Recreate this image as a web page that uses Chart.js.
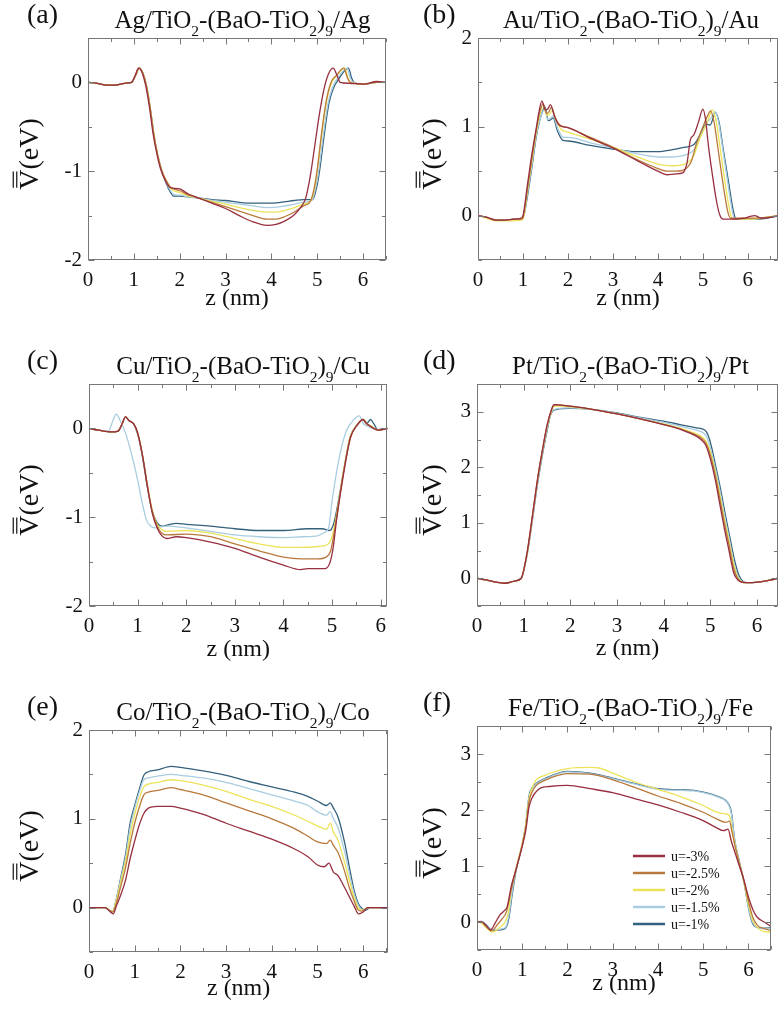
<!DOCTYPE html>
<html><head><meta charset="utf-8">
<script src="https://cdn.jsdelivr.net/npm/chart.js@4.4.1/dist/chart.umd.min.js"></script>
<style>
html,body{margin:0;padding:0;background:#fff}
body{width:779px;height:1010px;position:relative;overflow:hidden}
canvas{position:absolute}
</style></head><body>
<canvas id="pa"></canvas><canvas id="pb"></canvas><canvas id="pc"></canvas>
<canvas id="pd"></canvas><canvas id="pe"></canvas><canvas id="pf"></canvas>
<script>
// ---------- legend / series ----------
const legendLabels = ['u=-3%','u=-2.5%','u=-2%','u=-1.5%','u=-1%'];
const seriesColors = ['#982f3f','#b9793c','#ece35a','#a9cde0','#33607c'];
const xTickLabels = ['0','1','2','3','4','5','6'];
const yTicksNeg = ['-2','-1','0'];
const yTicksLow = ['0','1','2'];
const yTicksHigh = ['0','1','2','3'];

// ---------- (a) Ag ----------
const agM30 = [[0,0],[0.2,-0.01],[0.4,-0.03],[0.6,-0.03],[0.8,-0.01],[0.95,0],[1.03,0.08],[1.1,0.16],[1.18,0.11],[1.26,-0.04],[1.34,-0.28],[1.42,-0.58],[1.5,-0.8],[1.58,-0.97],[1.68,-1.1],[1.78,-1.18],[1.85,-1.19],[2.0,-1.2],[2.2,-1.26],[2.4,-1.3],[2.7,-1.36],[3.0,-1.42],[3.3,-1.5],[3.6,-1.57],[3.9,-1.61],[4.1,-1.6],[4.3,-1.56],[4.5,-1.49],[4.65,-1.4],[4.75,-1.3],[4.85,-1.05],[4.95,-0.7],[5.05,-0.35],[5.15,-0.07],[5.25,0.1],[5.35,0.16],[5.43,0.08],[5.5,0],[5.7,-0.01],[6.0,-0.02],[6.3,0.01],[6.5,0]];
const agM25 = [[0,0],[0.2,-0.01],[0.4,-0.03],[0.6,-0.03],[0.8,-0.01],[0.95,0],[1.04,0.08],[1.12,0.16],[1.2,0.1],[1.28,-0.05],[1.36,-0.3],[1.44,-0.6],[1.52,-0.82],[1.6,-0.98],[1.7,-1.1],[1.8,-1.18],[1.87,-1.2],[2.0,-1.22],[2.2,-1.27],[2.4,-1.3],[2.7,-1.35],[3.0,-1.4],[3.3,-1.45],[3.6,-1.5],[3.9,-1.54],[4.1,-1.54],[4.3,-1.51],[4.5,-1.46],[4.7,-1.39],[4.85,-1.34],[4.93,-1.2],[5.0,-0.98],[5.1,-0.55],[5.2,-0.2],[5.3,0.0],[5.42,0.08],[5.58,0.16],[5.66,0.05],[5.72,0],[6.0,-0.02],[6.3,0],[6.5,0]];
const agM20 = [[0,0],[0.2,-0.01],[0.4,-0.03],[0.6,-0.03],[0.8,-0.01],[0.95,0],[1.04,0.08],[1.12,0.16],[1.2,0.1],[1.28,-0.05],[1.36,-0.3],[1.44,-0.6],[1.52,-0.82],[1.6,-0.98],[1.7,-1.1],[1.8,-1.19],[1.87,-1.22],[2.0,-1.24],[2.2,-1.28],[2.4,-1.3],[2.7,-1.34],[3.0,-1.37],[3.3,-1.41],[3.6,-1.44],[3.9,-1.46],[4.1,-1.46],[4.3,-1.44],[4.5,-1.41],[4.7,-1.37],[4.85,-1.34],[4.94,-1.2],[5.0,-1.0],[5.1,-0.58],[5.2,-0.22],[5.3,-0.02],[5.43,0.08],[5.6,0.16],[5.67,0.05],[5.73,0],[6.0,-0.02],[6.3,0],[6.5,0]];
const agM15 = [[0,0],[0.2,-0.01],[0.4,-0.03],[0.6,-0.03],[0.8,-0.01],[0.95,0],[1.04,0.08],[1.12,0.16],[1.2,0.1],[1.28,-0.05],[1.36,-0.3],[1.44,-0.6],[1.52,-0.82],[1.6,-0.98],[1.7,-1.12],[1.8,-1.22],[1.87,-1.26],[2.0,-1.27],[2.2,-1.29],[2.4,-1.3],[2.7,-1.33],[3.0,-1.35],[3.3,-1.37],[3.6,-1.39],[3.9,-1.41],[4.2,-1.4],[4.5,-1.37],[4.7,-1.35],[4.88,-1.33],[4.96,-1.2],[5.03,-1.0],[5.13,-0.6],[5.23,-0.25],[5.33,-0.06],[5.45,0.05],[5.65,0.16],[5.72,0.05],[5.78,0],[6.0,-0.02],[6.3,0],[6.5,0]];
const agM10 = [[0,0],[0.2,-0.01],[0.4,-0.03],[0.6,-0.03],[0.8,-0.01],[0.95,0],[1.04,0.08],[1.12,0.16],[1.2,0.1],[1.28,-0.05],[1.36,-0.3],[1.44,-0.6],[1.52,-0.82],[1.6,-0.98],[1.7,-1.13],[1.8,-1.24],[1.87,-1.28],[2.0,-1.28],[2.2,-1.29],[2.4,-1.3],[2.7,-1.32],[3.0,-1.33],[3.3,-1.35],[3.6,-1.36],[3.9,-1.36],[4.2,-1.35],[4.5,-1.33],[4.7,-1.32],[4.9,-1.32],[4.98,-1.2],[5.05,-1.0],[5.15,-0.6],[5.25,-0.25],[5.35,-0.07],[5.47,0.04],[5.68,0.16],[5.75,0.05],[5.8,0],[6.0,-0.02],[6.3,0],[6.5,0]];

// ---------- (b) Au ----------
const auM30 = [[0,0],[0.2,-0.02],[0.4,-0.05],[0.6,-0.05],[0.8,-0.04],[0.95,-0.03],[1.0,0],[1.1,0.35],[1.2,0.7],[1.3,1.0],[1.36,1.18],[1.42,1.29],[1.5,1.19],[1.55,1.2],[1.61,1.25],[1.7,1.12],[1.8,1.02],[2.0,0.99],[2.5,0.87],[3.0,0.76],[3.5,0.63],[4.0,0.5],[4.2,0.46],[4.4,0.47],[4.55,0.48],[4.65,0.6],[4.72,0.85],[4.8,0.91],[4.9,1.05],[5.0,1.2],[5.06,1.08],[5.12,0.8],[5.2,0.5],[5.3,0.17],[5.38,0.0],[5.45,-0.04],[5.6,-0.04],[5.9,-0.03],[6.05,-0.01],[6.15,0.0],[6.3,-0.03],[6.5,-0.02],[6.7,0]];
const auM25 = [[0,0],[0.2,-0.02],[0.4,-0.05],[0.6,-0.05],[0.8,-0.04],[0.95,-0.04],[1.0,-0.02],[1.1,0.3],[1.2,0.65],[1.3,0.98],[1.38,1.18],[1.45,1.26],[1.52,1.15],[1.58,1.17],[1.63,1.22],[1.72,1.1],[1.82,1.02],[2.0,0.99],[2.5,0.88],[3.0,0.77],[3.5,0.64],[4.0,0.53],[4.2,0.5],[4.4,0.5],[4.6,0.52],[4.75,0.62],[4.85,0.8],[5.0,1.0],[5.1,1.12],[5.17,1.18],[5.25,1.05],[5.35,0.7],[5.45,0.35],[5.55,0.05],[5.62,-0.03],[6.0,-0.03],[6.4,-0.02],[6.7,0]];
const auM20 = [[0,0],[0.2,-0.03],[0.4,-0.06],[0.6,-0.06],[0.8,-0.06],[0.95,-0.05],[1.0,-0.04],[1.1,0.28],[1.2,0.62],[1.3,0.95],[1.38,1.15],[1.46,1.23],[1.53,1.13],[1.6,1.15],[1.65,1.18],[1.75,1.06],[1.85,0.97],[2.0,0.94],[2.5,0.86],[3.0,0.77],[3.5,0.67],[4.0,0.58],[4.3,0.56],[4.6,0.58],[4.8,0.68],[4.92,0.85],[5.05,1.0],[5.13,1.1],[5.21,1.19],[5.3,1.05],[5.4,0.7],[5.5,0.35],[5.6,0.05],[5.66,-0.04],[6.0,-0.04],[6.4,-0.02],[6.7,0]];
const auM15 = [[0,0],[0.2,-0.02],[0.4,-0.05],[0.6,-0.05],[0.8,-0.04],[0.95,-0.04],[1.0,-0.03],[1.1,0.25],[1.2,0.58],[1.3,0.92],[1.4,1.12],[1.48,1.2],[1.55,1.08],[1.62,1.1],[1.67,1.12],[1.78,0.97],[1.9,0.88],[2.0,0.88],[2.5,0.82],[3.0,0.76],[3.5,0.7],[4.0,0.66],[4.3,0.66],[4.6,0.68],[4.8,0.74],[4.95,0.9],[5.1,1.05],[5.18,1.1],[5.27,1.17],[5.35,1.05],[5.45,0.72],[5.55,0.38],[5.65,0.06],[5.7,-0.03],[6.0,-0.04],[6.4,-0.02],[6.7,0]];
const auM10 = [[0,0],[0.2,-0.02],[0.4,-0.05],[0.6,-0.05],[0.8,-0.04],[0.95,-0.04],[1.0,-0.03],[1.1,0.22],[1.2,0.55],[1.3,0.9],[1.4,1.12],[1.49,1.22],[1.56,1.07],[1.62,1.08],[1.67,1.1],[1.77,0.95],[1.88,0.85],[2.0,0.84],[2.5,0.79],[3.0,0.75],[3.5,0.72],[4.0,0.72],[4.3,0.74],[4.6,0.77],[4.8,0.8],[4.95,0.92],[5.07,1.03],[5.16,1.02],[5.28,1.16],[5.36,1.05],[5.46,0.72],[5.57,0.38],[5.67,0.07],[5.73,-0.03],[6.0,-0.04],[6.4,-0.03],[6.7,0]];

// ---------- (c) Cu ----------
const cuM30 = [[0,0],[0.2,-0.02],[0.45,-0.04],[0.6,-0.03],[0.68,0.05],[0.75,0.13],[0.82,0.09],[0.92,0.05],[1.0,-0.05],[1.1,-0.3],[1.2,-0.65],[1.3,-0.95],[1.4,-1.12],[1.5,-1.21],[1.6,-1.24],[1.8,-1.22],[2.0,-1.23],[2.5,-1.28],[3.0,-1.35],[3.5,-1.45],[4.0,-1.54],[4.35,-1.59],[4.5,-1.58],[4.7,-1.58],[4.85,-1.58],[4.95,-1.52],[5.02,-1.35],[5.1,-1.0],[5.24,-0.5],[5.38,-0.1],[5.52,0.04],[5.63,0.1],[5.7,0.06],[5.8,0.02],[5.95,-0.02],[6.15,0]];
const cuM25 = [[0,0],[0.2,-0.02],[0.45,-0.04],[0.6,-0.03],[0.68,0.05],[0.75,0.13],[0.82,0.09],[0.92,0.05],[1.0,-0.05],[1.1,-0.3],[1.2,-0.64],[1.3,-0.93],[1.4,-1.1],[1.5,-1.18],[1.6,-1.2],[2.0,-1.19],[2.5,-1.22],[3.0,-1.3],[3.5,-1.38],[4.0,-1.45],[4.35,-1.47],[4.7,-1.47],[4.88,-1.45],[4.97,-1.38],[5.05,-1.15],[5.12,-0.9],[5.24,-0.48],[5.38,-0.1],[5.52,0.04],[5.64,0.1],[5.71,0.05],[5.8,0.02],[5.95,-0.02],[6.15,0]];
const cuM20 = [[0,0],[0.2,-0.02],[0.45,-0.04],[0.6,-0.03],[0.68,0.05],[0.75,0.13],[0.82,0.09],[0.92,0.05],[1.0,-0.05],[1.1,-0.3],[1.2,-0.63],[1.3,-0.92],[1.4,-1.08],[1.5,-1.14],[1.6,-1.16],[2.0,-1.15],[2.5,-1.18],[3.0,-1.24],[3.5,-1.3],[4.0,-1.34],[4.35,-1.34],[4.7,-1.33],[4.9,-1.31],[4.98,-1.25],[5.05,-1.1],[5.12,-0.88],[5.24,-0.47],[5.37,-0.1],[5.5,0.03],[5.65,0.1],[5.72,0.05],[5.8,0.03],[5.95,-0.02],[6.15,0]];
const cuM15 = [[0,0],[0.2,-0.02],[0.4,-0.03],[0.5,0.1],[0.56,0.16],[0.63,0.1],[0.75,-0.05],[0.88,-0.3],[1.0,-0.58],[1.1,-0.85],[1.18,-1.03],[1.27,-1.1],[1.35,-1.12],[1.6,-1.1],[2.0,-1.12],[2.5,-1.16],[3.0,-1.2],[3.5,-1.22],[4.0,-1.23],[4.4,-1.22],[4.7,-1.21],[4.85,-1.17],[4.93,-1.12],[5.0,-0.82],[5.1,-0.47],[5.2,-0.2],[5.3,-0.02],[5.45,0.1],[5.56,0.14],[5.65,0.05],[5.75,0.02],[5.9,-0.01],[6.15,0]];
const cuM10 = [[0,0],[0.2,-0.02],[0.45,-0.04],[0.6,-0.03],[0.68,0.05],[0.75,0.13],[0.82,0.09],[0.92,0.05],[1.0,-0.06],[1.1,-0.32],[1.2,-0.66],[1.3,-0.93],[1.4,-1.06],[1.5,-1.1],[1.6,-1.09],[1.8,-1.07],[2.0,-1.08],[2.5,-1.1],[3.0,-1.13],[3.5,-1.15],[4.0,-1.15],[4.5,-1.13],[4.8,-1.13],[4.95,-1.15],[5.03,-1.08],[5.12,-0.85],[5.24,-0.47],[5.37,-0.1],[5.5,0.03],[5.65,0.1],[5.72,0.06],[5.79,0.1],[5.86,0.05],[5.95,-0.02],[6.15,0]];

// ---------- (d) Pt ----------
const ptM30 = [[0,0],[0.2,-0.03],[0.4,-0.07],[0.6,-0.09],[0.8,-0.05],[0.95,0],[1.05,0.35],[1.1,0.6],[1.2,1.2],[1.3,1.8],[1.4,2.3],[1.5,2.75],[1.6,3.05],[1.65,3.13],[1.8,3.12],[2.0,3.1],[2.5,3.04],[3.0,2.96],[3.5,2.87],[4.0,2.77],[4.4,2.67],[4.7,2.56],[4.8,2.5],[4.9,2.4],[5.0,2.15],[5.1,1.8],[5.2,1.35],[5.3,0.9],[5.4,0.5],[5.5,0.1],[5.6,-0.04],[5.75,-0.08],[5.9,-0.08],[6.1,-0.06],[6.3,-0.03],[6.45,0]];
const ptM25 = [[0,0],[0.2,-0.03],[0.4,-0.07],[0.6,-0.09],[0.8,-0.05],[0.95,0],[1.05,0.35],[1.1,0.6],[1.2,1.2],[1.3,1.8],[1.4,2.3],[1.5,2.75],[1.6,3.04],[1.65,3.12],[1.8,3.12],[2.0,3.1],[2.5,3.04],[3.0,2.96],[3.5,2.87],[4.0,2.77],[4.4,2.68],[4.7,2.58],[4.8,2.53],[4.9,2.44],[5.0,2.22],[5.1,1.88],[5.2,1.45],[5.3,1.0],[5.4,0.6],[5.5,0.18],[5.6,-0.02],[5.75,-0.08],[5.9,-0.08],[6.1,-0.06],[6.3,-0.03],[6.45,0]];
const ptM20 = [[0,0],[0.2,-0.03],[0.4,-0.07],[0.6,-0.09],[0.8,-0.05],[0.95,0],[1.05,0.34],[1.1,0.58],[1.2,1.18],[1.3,1.78],[1.4,2.28],[1.5,2.72],[1.6,3.02],[1.66,3.1],[1.8,3.1],[2.0,3.09],[2.5,3.04],[3.0,2.96],[3.5,2.87],[4.0,2.78],[4.4,2.69],[4.7,2.6],[4.8,2.56],[4.9,2.48],[5.0,2.28],[5.1,1.94],[5.2,1.52],[5.3,1.07],[5.4,0.67],[5.5,0.25],[5.6,0.0],[5.75,-0.08],[5.9,-0.08],[6.1,-0.06],[6.3,-0.03],[6.45,0]];
const ptM15 = [[0,0],[0.2,-0.03],[0.4,-0.07],[0.6,-0.09],[0.8,-0.05],[0.95,0],[1.05,0.33],[1.1,0.56],[1.2,1.15],[1.3,1.75],[1.4,2.25],[1.5,2.68],[1.6,3.0],[1.7,3.05],[2.0,3.07],[2.5,3.04],[3.0,2.97],[3.5,2.89],[4.0,2.81],[4.4,2.73],[4.7,2.67],[4.85,2.62],[4.92,2.55],[5.0,2.35],[5.1,2.0],[5.2,1.6],[5.3,1.15],[5.4,0.73],[5.5,0.3],[5.6,0.02],[5.75,-0.08],[5.9,-0.08],[6.1,-0.06],[6.3,-0.03],[6.45,0]];
const ptM10 = [[0,0],[0.2,-0.03],[0.4,-0.07],[0.6,-0.09],[0.8,-0.05],[0.95,0],[1.05,0.32],[1.1,0.55],[1.2,1.13],[1.3,1.72],[1.4,2.22],[1.5,2.65],[1.58,2.95],[1.7,3.04],[2.0,3.06],[2.5,3.04],[3.0,2.98],[3.5,2.9],[4.0,2.83],[4.4,2.76],[4.7,2.71],[4.88,2.67],[4.95,2.58],[5.03,2.35],[5.12,2.0],[5.22,1.6],[5.32,1.15],[5.42,0.73],[5.52,0.32],[5.62,0.04],[5.78,-0.08],[5.9,-0.08],[6.1,-0.06],[6.3,-0.03],[6.45,0]];

// ---------- (e) Co ----------
const coM30 = [[0,0],[0.2,0],[0.35,0],[0.45,-0.04],[0.53,-0.07],[0.6,0.02],[0.7,0.15],[0.8,0.31],[0.9,0.55],[1.0,0.75],[1.1,0.93],[1.2,1.06],[1.3,1.12],[1.5,1.14],[1.8,1.14],[2.0,1.12],[2.5,1.05],[3.0,0.95],[3.5,0.86],[4.0,0.77],[4.5,0.66],[4.8,0.57],[5.0,0.48],[5.15,0.46],[5.25,0.5],[5.35,0.4],[5.45,0.36],[5.6,0.22],[5.7,0.12],[5.8,0.02],[5.9,-0.07],[6.0,-0.05],[6.1,0],[6.55,0]];
const coM25 = [[0,0],[0.2,0],[0.35,0],[0.45,-0.03],[0.52,-0.05],[0.6,0.05],[0.7,0.25],[0.8,0.45],[0.9,0.72],[1.0,0.95],[1.1,1.13],[1.2,1.27],[1.3,1.3],[1.5,1.32],[1.8,1.35],[2.0,1.33],[2.5,1.27],[3.0,1.18],[3.5,1.09],[4.0,1.0],[4.5,0.89],[4.8,0.8],[5.0,0.74],[5.2,0.72],[5.28,0.76],[5.35,0.7],[5.45,0.62],[5.6,0.4],[5.7,0.22],[5.8,0.08],[5.88,-0.02],[5.97,-0.04],[6.1,0],[6.55,0]];
const coM20 = [[0,0],[0.2,0],[0.35,0],[0.45,-0.03],[0.52,-0.04],[0.6,0.08],[0.7,0.3],[0.8,0.52],[0.9,0.82],[1.0,1.05],[1.1,1.23],[1.2,1.36],[1.3,1.39],[1.5,1.41],[1.8,1.44],[2.0,1.43],[2.5,1.38],[3.0,1.31],[3.5,1.22],[4.0,1.14],[4.5,1.04],[4.8,0.97],[5.0,0.92],[5.2,0.88],[5.28,0.95],[5.35,0.85],[5.45,0.76],[5.6,0.5],[5.7,0.3],[5.8,0.12],[5.9,-0.01],[6.0,-0.03],[6.1,0],[6.55,0]];
const coM15 = [[0,0],[0.2,0],[0.35,0],[0.45,-0.03],[0.52,-0.04],[0.6,0.1],[0.7,0.33],[0.8,0.56],[0.9,0.9],[1.0,1.12],[1.1,1.3],[1.2,1.44],[1.3,1.46],[1.5,1.48],[1.8,1.5],[2.0,1.49],[2.5,1.46],[3.0,1.41],[3.5,1.34],[4.0,1.27],[4.5,1.2],[4.8,1.15],[5.0,1.08],[5.2,1.04],[5.28,1.08],[5.35,1.0],[5.45,0.9],[5.6,0.62],[5.7,0.38],[5.8,0.16],[5.9,0.02],[6.0,-0.03],[6.12,0],[6.55,0]];
const coM10 = [[0,0],[0.2,0],[0.35,0],[0.45,-0.03],[0.52,-0.04],[0.6,0.1],[0.7,0.35],[0.8,0.6],[0.9,0.95],[1.0,1.15],[1.1,1.33],[1.2,1.49],[1.3,1.53],[1.5,1.55],[1.8,1.59],[2.0,1.58],[2.5,1.54],[3.0,1.49],[3.5,1.42],[4.0,1.36],[4.5,1.3],[4.8,1.25],[5.0,1.2],[5.2,1.15],[5.28,1.18],[5.35,1.12],[5.45,1.02],[5.6,0.72],[5.7,0.45],[5.8,0.2],[5.9,0.04],[6.0,-0.02],[6.05,-0.03],[6.15,0],[6.55,0]];

// ---------- (f) Fe ----------
const feM30 = [[0,0],[0.1,0],[0.2,-0.06],[0.3,-0.14],[0.4,-0.02],[0.5,0.12],[0.6,0.2],[0.67,0.28],[0.76,0.65],[0.86,0.93],[1.0,1.35],[1.08,1.64],[1.15,2.05],[1.22,2.22],[1.3,2.32],[1.4,2.39],[1.6,2.42],[2.0,2.44],[2.5,2.38],[3.0,2.31],[3.5,2.2],[4.0,2.09],[4.5,1.96],[5.0,1.81],[5.3,1.68],[5.45,1.63],[5.55,1.66],[5.62,1.45],[5.72,1.2],[5.8,1.0],[5.9,0.75],[6.0,0.45],[6.1,0.22],[6.2,0.08],[6.35,0.0],[6.5,-0.08]];
const feM25 = [[0,0],[0.1,0],[0.2,-0.08],[0.32,-0.16],[0.45,-0.05],[0.55,0.05],[0.65,0.18],[0.75,0.55],[0.86,0.93],[1.0,1.38],[1.08,1.7],[1.15,2.15],[1.22,2.32],[1.3,2.43],[1.5,2.53],[2.0,2.65],[2.5,2.64],[3.0,2.54],[3.5,2.4],[4.0,2.25],[4.5,2.12],[5.0,1.96],[5.3,1.84],[5.5,1.78],[5.58,1.8],[5.64,1.6],[5.72,1.3],[5.8,1.05],[5.9,0.75],[6.0,0.38],[6.1,0.08],[6.2,-0.06],[6.35,-0.12],[6.5,-0.15]];
const feM20 = [[0,0],[0.1,-0.02],[0.2,-0.1],[0.35,-0.18],[0.5,-0.1],[0.62,0.0],[0.7,0.2],[0.76,0.6],[0.86,0.95],[1.0,1.4],[1.08,1.75],[1.15,2.2],[1.22,2.4],[1.3,2.53],[1.5,2.62],[2.0,2.74],[2.5,2.76],[2.7,2.75],[3.0,2.66],[3.5,2.5],[4.0,2.37],[4.5,2.24],[5.0,2.08],[5.3,1.96],[5.5,1.93],[5.58,1.9],[5.64,1.65],[5.72,1.32],[5.8,1.05],[5.9,0.72],[6.0,0.32],[6.1,0.02],[6.2,-0.1],[6.35,-0.17],[6.5,-0.18]];
const feM15 = [[0,0],[0.1,0.01],[0.2,-0.06],[0.35,-0.14],[0.5,-0.13],[0.63,-0.1],[0.7,0.1],[0.78,0.55],[0.86,0.92],[1.0,1.38],[1.08,1.75],[1.15,2.22],[1.22,2.38],[1.3,2.46],[1.5,2.55],[2.0,2.68],[2.5,2.65],[3.0,2.56],[3.5,2.46],[4.0,2.37],[4.5,2.35],[4.8,2.34],[5.0,2.31],[5.3,2.24],[5.55,2.11],[5.62,1.95],[5.7,1.45],[5.8,1.08],[5.9,0.73],[6.0,0.28],[6.08,0.02],[6.2,-0.1],[6.35,-0.12],[6.5,-0.11]];
const feM10 = [[0,0],[0.1,0.01],[0.2,-0.05],[0.35,-0.15],[0.5,-0.14],[0.63,-0.11],[0.7,0.05],[0.78,0.5],[0.86,0.9],[1.0,1.38],[1.08,1.75],[1.15,2.25],[1.22,2.4],[1.3,2.47],[1.5,2.56],[2.0,2.69],[2.5,2.66],[3.0,2.57],[3.5,2.47],[4.0,2.38],[4.5,2.36],[4.8,2.35],[5.0,2.32],[5.3,2.25],[5.55,2.12],[5.62,1.98],[5.7,1.45],[5.8,1.08],[5.9,0.72],[6.0,0.26],[6.08,0.0],[6.2,-0.1],[6.35,-0.11],[6.5,-0.1]];

// ---------- layout ----------
const SERIF = "'Liberation Serif','Times New Roman',serif";
const TXT = '#111';
const FRAME = '#777';
const XH = 58;

const panels = [
  {id:'pa', label:'(a)', metal:'Ag', series:[agM30,agM25,agM20,agM15,agM10], xMax:6.5,  yMin:-2,   yMax:0.5, yLabels:yTicksNeg,  area:{l:88, t:38, r:391,b:260}, col:0, xtPad:5},
  {id:'pb', label:'(b)', metal:'Au', series:[auM30,auM25,auM20,auM15,auM10], xMax:6.67, yMin:-0.5, yMax:2,   yLabels:yTicksLow,  area:{l:478,t:38, r:778,b:260}, col:1, xtPad:5},
  {id:'pc', label:'(c)', metal:'Cu', series:[cuM30,cuM25,cuM20,cuM15,cuM10], xMax:6.14, yMin:-2,   yMax:0.5, yLabels:yTicksNeg,  area:{l:89, t:384,r:391,b:606}, col:0, xtPad:0},
  {id:'pd', label:'(d)', metal:'Pt', series:[ptM30,ptM25,ptM20,ptM15,ptM10], xMax:6.45, yMin:-0.5, yMax:3.5, yLabels:yTicksHigh, area:{l:477,t:384,r:778,b:606}, col:1, xtPad:1},
  {id:'pe', label:'(e)', metal:'Co', series:[coM30,coM25,coM20,coM15,coM10], xMax:6.55, yMin:-0.5, yMax:2,   yLabels:yTicksLow,  area:{l:89, t:730,r:391,b:952}, col:0, xtPad:7},
  {id:'pf', label:'(f)', metal:'Fe', series:[feM30,feM25,feM20,feM15,feM10], xMax:6.5,  yMin:-0.5, yMax:3.5, yLabels:yTicksHigh, area:{l:477,t:726,r:778,b:950}, col:1, xtPad:10, legend:true}
];

function drawRich(ctx, parts, x, y, size) {
  let w = 0;
  const seg = parts.map(([t, sub]) => {
    const fs = sub ? size * 0.62 : size;
    ctx.font = fs + 'px ' + SERIF;
    const mw = ctx.measureText(t).width; w += mw;
    return {t, sub, fs, mw};
  });
  let cx = x - w / 2;
  ctx.textAlign = 'left'; ctx.textBaseline = 'alphabetic';
  seg.forEach(s => {
    ctx.font = s.fs + 'px ' + SERIF;
    ctx.fillText(s.t, cx, y + (s.sub ? size * 0.3 : 0));
    cx += s.mw;
  });
}

function drawYTitle(ctx, cx, cy, size) {
  ctx.save();
  ctx.translate(cx, cy); ctx.rotate(-Math.PI / 2);
  ctx.font = size + 'px ' + SERIF;
  ctx.textAlign = 'left'; ctx.textBaseline = 'alphabetic';
  const txt = 'V(eV)';
  const W = ctx.measureText(txt).width, wV = ctx.measureText('V').width;
  const x0 = -W / 2, base = size * 0.33, cap = size * 0.66;
  ctx.fillStyle = TXT;
  ctx.fillText(txt, x0, base);
  ctx.strokeStyle = TXT; ctx.lineWidth = 1.2;
  [3, 6.5].forEach(d => {
    ctx.beginPath();
    ctx.moveTo(x0 + wV * 0.1, base - cap - d);
    ctx.lineTo(x0 + wV * 0.9, base - cap - d);
    ctx.stroke();
  });
  ctx.restore();
}

const decor = {
  id: 'decor',
  afterDraw(chart, args, o) {
    const {ctx, chartArea: a, scales: {x, y}} = chart;
    ctx.save();
    // frame + inward ticks
    ctx.strokeStyle = FRAME; ctx.lineWidth = 1;
    const L = Math.round(a.left) + 0.5, R = Math.round(a.right) - 0.5;
    const T = Math.round(a.top) + 0.5, B = Math.round(a.bottom) - 0.5;
    ctx.strokeRect(L, T, R - L, B - T);
    ctx.beginPath();
    for (let v = 0; v <= x.max + 1e-9; v += 0.5) {
      const p = Math.round(x.getPixelForValue(v)) + 0.5;
      const len = Math.abs(v - Math.round(v)) < 1e-6 ? 6 : 3.5;
      ctx.moveTo(p, B); ctx.lineTo(p, B - len);
      ctx.moveTo(p, T); ctx.lineTo(p, T + len);
    }
    for (let v = y.min; v <= y.max + 1e-9; v += 0.5) {
      const p = Math.round(y.getPixelForValue(v)) + 0.5;
      const len = Math.abs(v - Math.round(v)) < 1e-6 ? 6 : 3.5;
      ctx.moveTo(L, p); ctx.lineTo(L + len, p);
      ctx.moveTo(R, p); ctx.lineTo(R - len, p);
    }
    ctx.stroke();
    // texts
    ctx.fillStyle = TXT;
    const p = o.panel, ox = o.ox, oy = o.oy;
    ctx.font = '28px ' + SERIF; ctx.textAlign = 'left'; ctx.textBaseline = 'alphabetic';
    ctx.fillText(p.label, (p.col ? 423 : 27) - ox, p.area.t - 15 - oy);
    const parts = [[p.metal + '/TiO', 0], ['2', 1], ['-(BaO-TiO', 0], ['2', 1], [')', 0], ['9', 1], ['/' + p.metal, 0]];
    drawRich(ctx, parts, (p.area.l + p.area.r) / 2 + 3 - ox, p.area.t - 10 - oy, 25);
    drawYTitle(ctx, (p.col ? 432 : 29) - ox, (p.area.t + p.area.b) / 2 + 5 - oy, 28);
    // legend
    if (p.legend) {
      chart.data.datasets.forEach((ds, i) => {
        const ry = 856 + i * 17 - oy;
        ctx.strokeStyle = ds.borderColor; ctx.lineWidth = 2.5;
        ctx.beginPath(); ctx.moveTo(633 - ox, ry); ctx.lineTo(665 - ox, ry); ctx.stroke();
        ctx.fillStyle = TXT; ctx.font = '14px ' + SERIF; ctx.textBaseline = 'middle';
        ctx.fillText(ds.label, 671 - ox, ry + 1);
      });
    }
    ctx.restore();
  }
};

function labelFor(v, list) {
  const s = String(Math.round(v * 100) / 100);
  return list.includes(s) ? s : '';
}

panels.forEach(p => {
  const cv = document.getElementById(p.id);
  const ox = p.col ? 392 : 0, w = p.col ? 387 : 394;
  const oy = p.area.t - 38;
  const h = (p.area.b - p.area.t) + 38 + XH;
  cv.width = w; cv.height = h;
  cv.style.left = ox + 'px'; cv.style.top = oy + 'px';
  cv.style.width = w + 'px'; cv.style.height = h + 'px';
  new Chart(cv, {
    type: 'line',
    data: {
      datasets: p.series.map((s, i) => ({
        label: legendLabels[i],
        data: s.map(([zx, vy]) => ({x: zx, y: vy})),
        borderColor: seriesColors[i],
        borderWidth: 1.3,
        pointRadius: 0,
        cubicInterpolationMode: 'monotone',
        fill: false
      }))
    },
    options: {
      responsive: false, animation: false, devicePixelRatio: 1, events: [],
      layout: {padding: {top: 38, left: 0, right: ox + w - p.area.r, bottom: 0}},
      plugins: {legend: {display: false}, tooltip: {enabled: false}, decor: {panel: p, ox: ox, oy: oy}},
      scales: {
        x: {
          type: 'linear', min: 0, max: p.xMax,
          grid: {display: false, drawTicks: false}, border: {display: false},
          ticks: {stepSize: 0.5, includeBounds: false, autoSkip: false, maxRotation: 0, minRotation: 0, padding: 8, color: TXT,
                  font: {family: SERIF, size: 21}, callback: v => labelFor(v, xTickLabels)},
          title: {display: true, text: 'z (nm)', color: TXT, font: {family: SERIF, size: 24},
                  padding: {top: 0, bottom: p.xtPad}},
          afterFit: s => { s.height = XH; }
        },
        y: {
          type: 'linear', min: p.yMin, max: p.yMax,
          grid: {display: false, drawTicks: false}, border: {display: false},
          ticks: {stepSize: 0.5, includeBounds: false, autoSkip: false, padding: 6, color: TXT,
                  font: {family: SERIF, size: 21}, callback: v => labelFor(v, p.yLabels)},
          afterFit: s => { s.width = p.area.l - ox; }
        }
      }
    },
    plugins: [decor]
  });
});
</script>
</body></html>
